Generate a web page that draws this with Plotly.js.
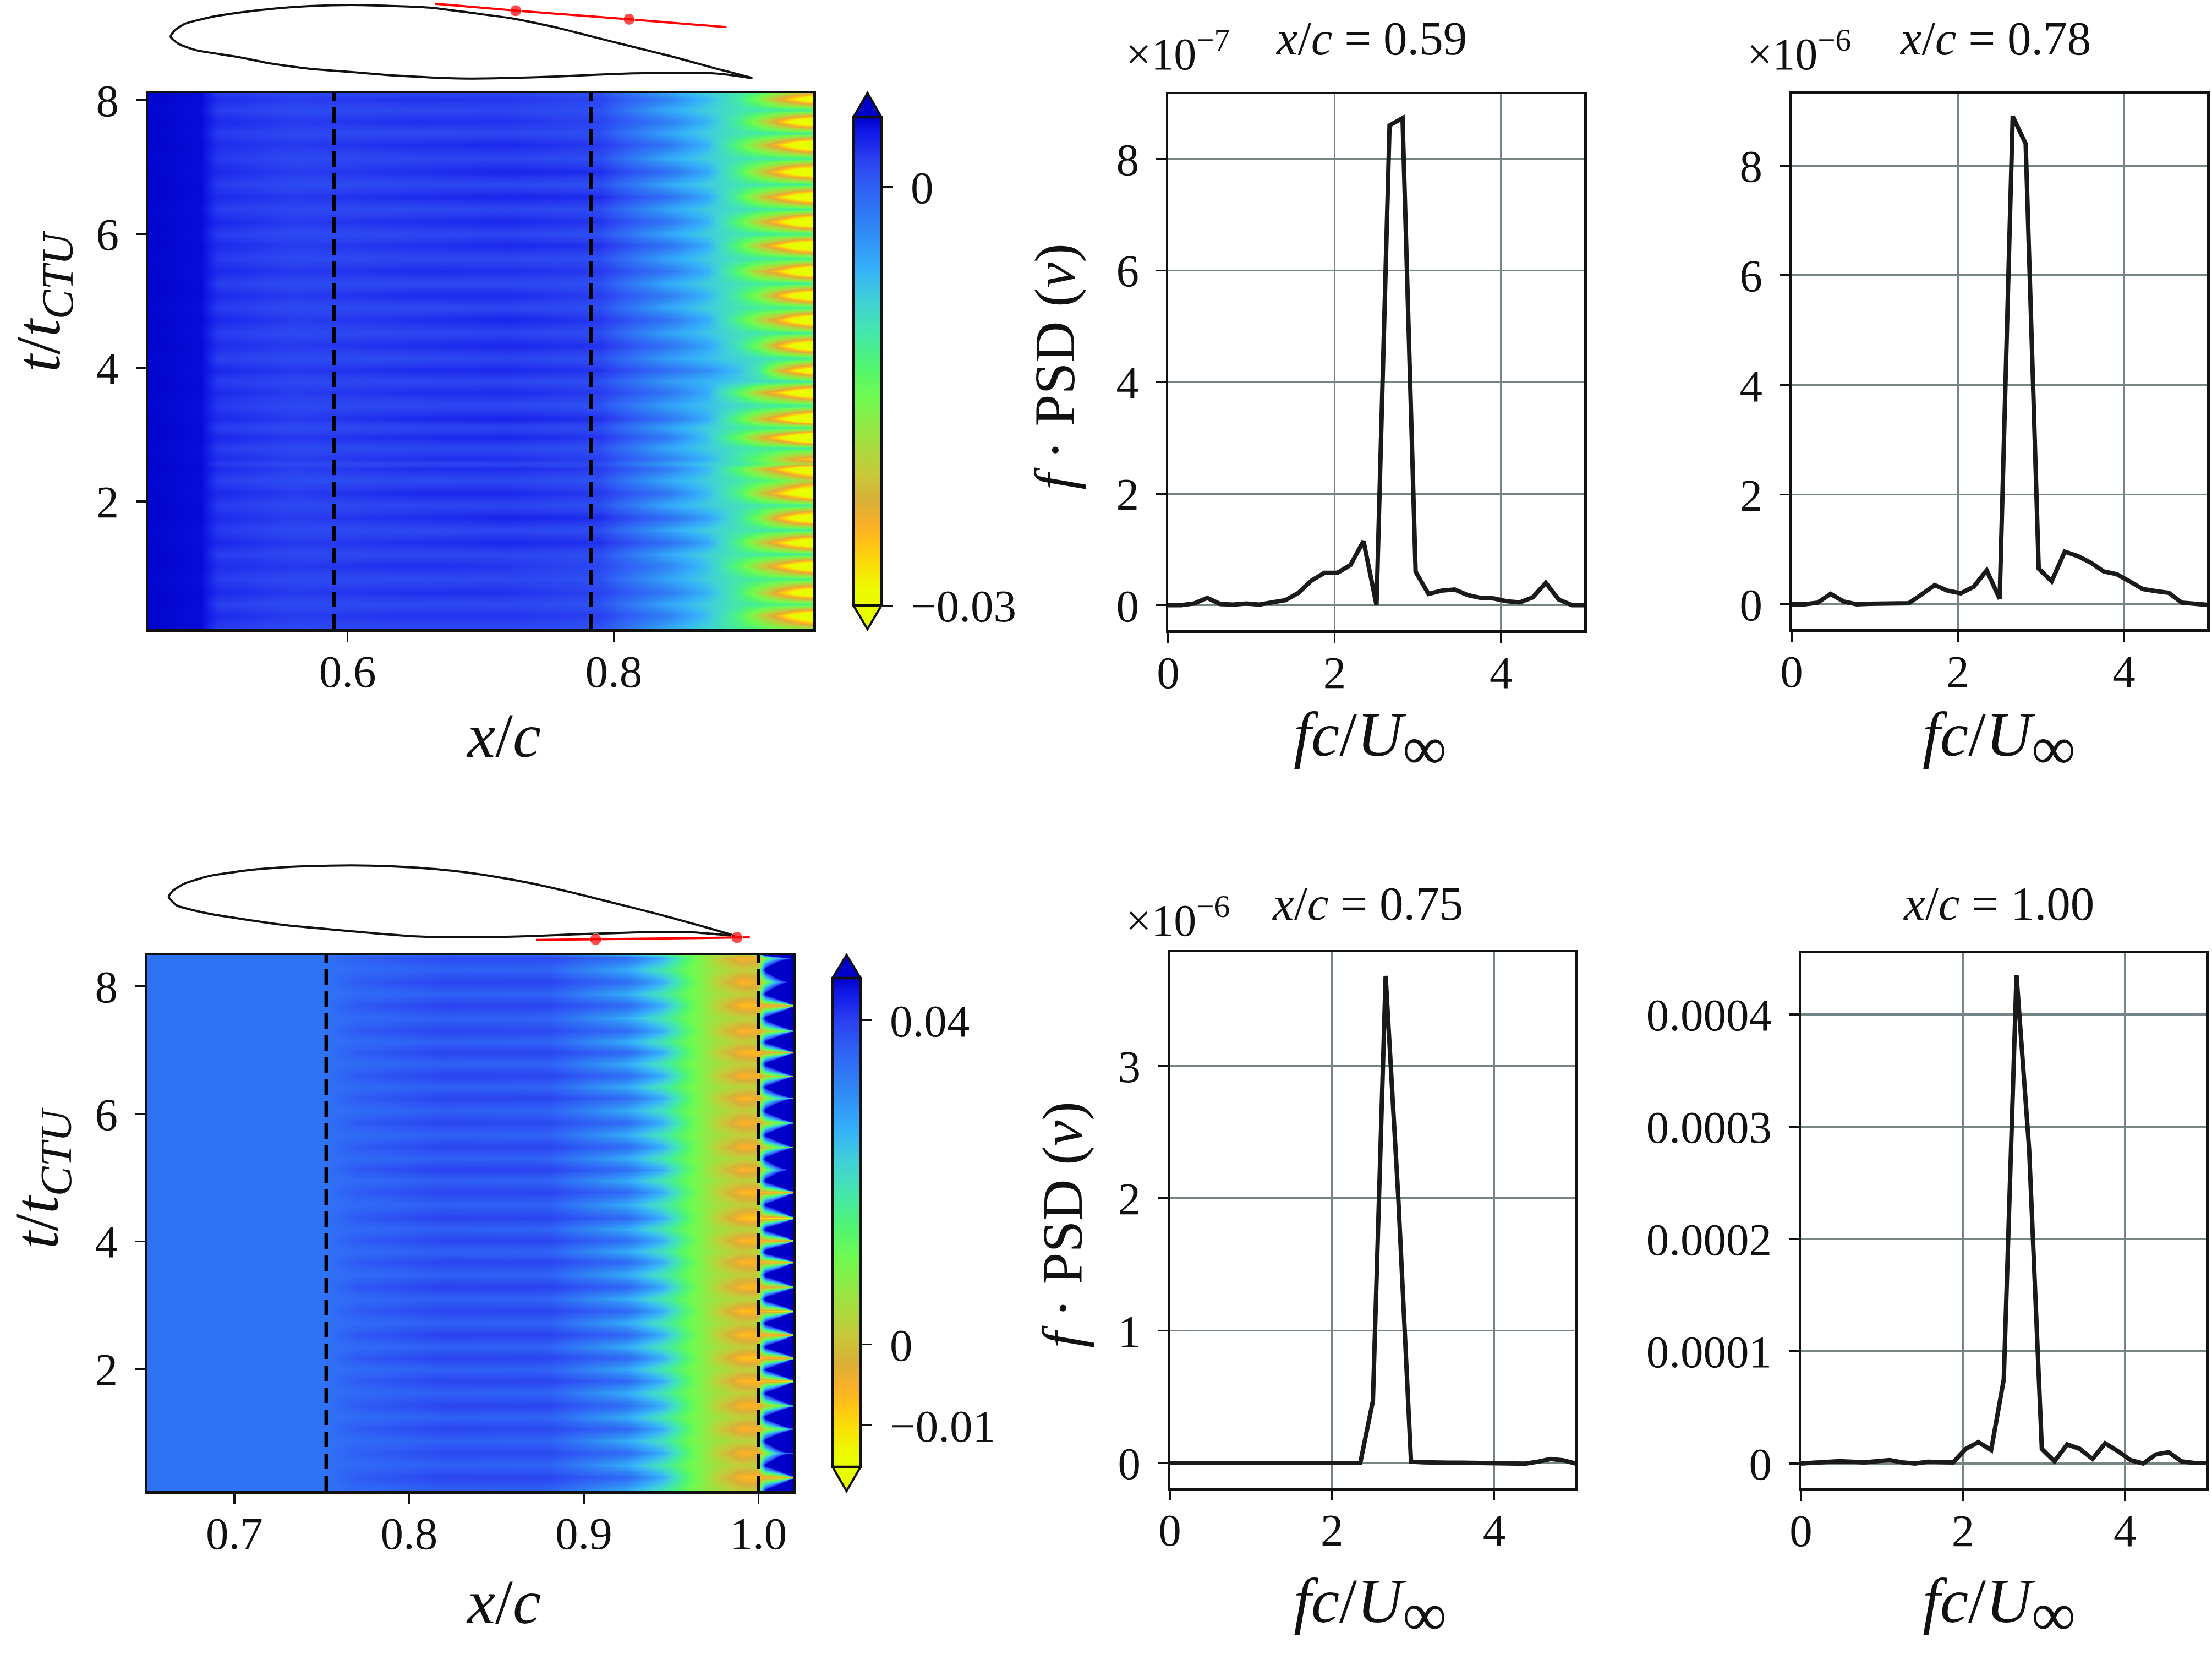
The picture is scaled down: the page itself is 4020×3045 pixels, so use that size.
<!DOCTYPE html>
<html><head><meta charset="utf-8">
<script src="https://cdn.plot.ly/plotly-3.0.1.min.js"></script>
<style>html,body{margin:0;padding:0;background:#fff}</style></head>
<body><div id="chart" style="width:4020px;height:3045px"></div>
<script>
// ---------- map A : z in units of 1e-3 ----------
const xA=[0.45,0.49,0.502,0.56,0.65,0.72,0.79,0.84,0.87,0.895,0.91,0.924,0.938,0.95];
const tA=[0.09,0.294,0.46,0.635,0.84,1.038,1.21,1.38,1.57,1.755,1.94,2.124,2.31,2.489,2.563,2.637,2.80,2.957,3.10,3.234,3.43,3.629,3.79,3.956,4.14,4.33,4.52,4.716,4.90,5.08,5.26,5.444,5.63,5.824,6.0,6.183,6.37,6.553,6.74,6.928,7.13,7.336,7.51,7.683,7.85,8.014,8.11];
const zA=[
[4.8,4.5,2.2,1.4,1.5,1.5,0.7,-5.4,-8.5,-11.5,-13,-15,-16,-17],
[4.8,4.4,3.0,2.2,2.6,2.6,2.0,-2.2,-6.8,-13,-19,-25,-32,-36],
[4.8,4.5,2.0,1.3,1.4,1.5,0.8,-5.2,-8,-10.5,-11.5,-12,-12,-12],
[4.8,4.5,3.1,2.3,2.8,2.7,1.9,-1.8,-6,-12,-18,-25,-32,-35],
[4.7,4.4,2.2,1.4,1.3,1.6,0.9,-5,-8,-10.5,-11.5,-12,-12,-12],
[4.8,4.5,2.9,2.4,2.9,2.5,1.6,-2.5,-7,-14,-20,-26,-33,-37],
[4.8,4.5,2.1,1.5,1.5,1.6,1.0,-5.2,-8.2,-10.5,-11,-11,-11,-11],
[4.8,4.4,3.2,2.3,2.8,3.2,2.8,-1,-5,-13,-20,-26,-33,-37],
[4.7,4.4,2.3,1.3,1.4,1.6,1.1,-5,-8,-10,-10.5,-11,-11,-11],
[4.8,4.5,3.0,2.2,2.9,3.3,3,-0.8,-4.5,-10.5,-16,-25,-33,-37],
[4.8,4.5,2.2,1.4,1.6,1.7,1.0,-5.4,-7.8,-9.5,-10.5,-11,-11,-11],
[4.8,4.4,3.1,2.3,3.1,3.1,2.4,-1.5,-6.5,-13,-20,-26,-33,-38],
[4.7,4.5,2.1,1.2,1.4,1.5,0.8,-5.5,-8,-10.5,-12,-14,-17,-19],
[4.8,4.5,3.0,2.1,2.8,2.9,2.2,-2,-6.5,-14,-20,-26,-33,-37],
[4.8,4.5,2.3,1.5,1.7,1.8,1.3,-4.5,-7.5,-10.5,-13,-16,-19,-20],
[4.8,4.4,2.9,2.2,2.7,2.8,2.0,-2.4,-6,-11,-14,-19,-24,-26],
[4.7,4.4,2.2,1.4,1.5,1.5,0.9,-5.2,-7.8,-10,-11,-11,-11,-11],
[4.8,4.5,3.2,2.4,3,3.2,2.5,-1.8,-7,-15,-22,-28,-37,-43],
[4.8,4.5,2.1,1.3,1.6,1.7,1.2,-5,-8,-10.5,-11,-11,-11,-11],
[4.8,4.4,3.1,2.3,3.1,3.4,2.8,-1.4,-5.5,-14,-21,-27,-35,-40],
[4.7,4.4,2.3,1.4,1.5,1.5,0.8,-4.8,-7,-9,-10,-10.5,-10.5,-11],
[4.8,4.5,3.0,2.2,2.8,3,2.3,-1.5,-5.5,-14,-21,-26,-33,-37],
[4.8,4.5,2.2,1.5,1.6,1.6,1.1,-4.2,-6.2,-8,-9.5,-10,-10.5,-11],
[4.8,4.4,3.1,2.4,3,3.1,2.6,-1,-3.5,-7,-11,-21,-29,-34],
[4.7,4.5,2.0,1.3,1.4,1.7,1.0,-4.5,-6.8,-8.5,-9.5,-10,-10.5,-11],
[4.8,4.5,2.9,2.3,2.9,3.2,2.7,-1.2,-4.8,-10.5,-16,-25,-33,-37],
[4.8,4.4,2.2,1.4,1.6,1.7,1.2,-4.8,-7.2,-9.5,-10.5,-11,-11,-11],
[4.8,4.5,3.2,2.2,2.8,3.3,2.5,-1.3,-5.5,-13,-19,-25,-33,-38],
[4.7,4.4,2.2,1.4,1.4,1.6,1.0,-5.2,-8,-10,-11,-11,-11,-11],
[4.8,4.5,3.0,2.3,3,3,2.2,-2,-6,-12,-17,-25,-33,-37],
[4.8,4.5,2.1,1.3,1.5,1.5,0.9,-5.5,-8,-10,-11,-11,-11,-11],
[4.8,4.4,3.1,2.4,2.9,2.8,2.4,-1.6,-5.8,-14,-21,-26,-34,-38],
[4.7,4.5,2.3,1.4,1.6,1.6,1.1,-5,-7.8,-10,-10.5,-11,-11,-11],
[4.8,4.5,3.0,2.2,2.7,3.1,2.7,-1.2,-5.5,-14,-21,-27,-35,-38],
[4.8,4.4,2.2,1.3,1.5,1.7,1.0,-5.2,-8,-10,-10.5,-11,-11,-11],
[4.8,4.5,3.2,2.3,2.9,3.2,2.6,-1.4,-5.8,-14,-21,-27,-35,-39],
[4.7,4.4,2.1,1.5,1.4,1.6,1.2,-5,-7.8,-9.5,-10.5,-11,-11,-11],
[4.8,4.5,3.0,2.4,3,3.3,3,-1,-5,-13,-20,-26,-33,-37],
[4.8,4.5,2.2,1.3,1.5,1.5,1.0,-5.2,-8,-10,-10.5,-11,-11,-11],
[4.8,4.4,3.1,2.2,2.8,3.4,2.9,-0.9,-5,-13,-20,-27,-34,-37],
[4.7,4.5,2.3,1.4,1.6,1.7,1.1,-5.4,-8,-10,-10.5,-11,-11,-11],
[4.8,4.5,2.9,2.3,2.9,3.1,2.4,-1.5,-6,-14,-20,-26,-34,-38],
[4.8,4.4,2.2,1.5,1.4,1.6,1.0,-5,-8,-10,-10.5,-11,-11,-11],
[4.8,4.5,3.1,2.3,2.8,2.7,1.8,-2,-6,-12,-18,-25,-33,-36],
[4.7,4.4,2.1,1.3,1.5,1.6,0.9,-5.4,-8,-10,-10.5,-11,-11,-11],
[4.8,4.5,3.0,2.2,2.7,2.5,1.7,-2.4,-6.5,-11,-16,-23,-29,-34],
[4.8,4.5,2.2,1.4,1.5,1.6,0.8,-5,-8,-10.5,-13,-17,-20,-22]];
// ---------- map B : z in units of 1e-3 ----------
const xB=[0.65,0.75,0.77,0.82,0.88,0.925,0.945,0.96,0.975,0.99,1.0,1.004,1.008,1.012,1.016,1.02];
const tB=[0.085,0.304,0.49,0.68,0.87,1.06,1.24,1.422,1.62,1.81,1.99,2.173,2.35,2.535,2.72,2.906,3.10,3.286,3.48,3.674,3.84,4.01,4.19,4.368,4.57,4.77,4.95,5.123,5.30,5.477,5.67,5.857,6.05,6.245,6.42,6.59,6.78,6.961,7.13,7.297,7.50,7.694,7.88,8.067,8.26,8.445,8.49];
const zB=[
[34,34,35,36.5,36,27,19,11,6,2,2,50,65,95,160,500],
[34,34,37,39.5,39.5,35.5,27,14,3,-6,-7,-6,-6,-6,-6,-6],
[34,34,35.2,36.6,36,27,19,11,6,2,3,48,62,90,155,480],
[34,34,36.5,39,39,35,27,14,3,-6,-5,6,18,28,34,38],
[34,34,35,36.5,36.2,27,20,11,6,3,3,50,66,96,160,520],
[34,34,37,39.5,39,35.5,27,14,3,-6,-5,3,8,12,16,20],
[34,34,35,36.4,36,27,19,11,6,2,2,50,65,95,165,500],
[34,34,37,39.5,39.5,35,27,14,3,-6,-6,0,4,7,10,12],
[34,34,35.2,36.6,36,27,19,11,6,2,2,48,62,90,150,480],
[34,34,37,39.5,39.5,35.5,27,14,3,-6,-7,-7,-8,-9,-11,-14],
[34,34,35,36.5,36.2,27.5,19,11,6,2,3,46,60,90,150,480],
[34,34,37.3,39.7,39.5,35.5,27,14,3,-7,-8,-8,-9,-10,-12,-14],
[34,34,35,36.5,36,27,19,11,6,2,2,48,64,92,155,500],
[34,34,37.4,40,39.8,36,27,14,3,-7,-7,-8,-9,-10,-11,-13],
[34,34,35,36.5,36.2,27,19,11,6,2,3,50,66,95,160,500],
[34,34,37,39.5,39.5,35.5,27,14,3,-7,-7,-7,-9,-10,-12,-14],
[34,34,35.2,36.7,36,27,19,11,6,3,3,52,68,98,165,520],
[34,34,37.5,40,40,36,27.5,14,3,-6,-7,-5,-5,-5,-5,-5],
[34,34,35,36.5,36,27,19,11,6,2,2,52,66,95,160,500],
[34,34,37.2,39.5,39.5,35.5,27,14,3,-6,-6,-6,-7,-7,-8,-8],
[34,34,35,36.4,36,27,20,11,6,2,3,54,70,100,165,520],
[34,34,37,39.5,39.5,35,27,14,3,-6,-7,-7,-8,-9,-11,-12],
[34,34,35.2,36.6,36,27,19,11,6,3,3,50,66,96,160,500],
[34,34,37.3,39.7,39.5,35.5,27,14,3,-7,-9,-10,-11,-12,-13,-14],
[34,34,35,36.5,36.2,27,19,11,6,2,2,48,62,92,155,480],
[34,34,37,39.5,39.5,35.5,27,14,3,-6,-7,-6,-6,-6,-6,-6],
[34,34,35,36.6,36,27,19,11,6,2,3,50,66,96,160,500],
[34,34,37.4,40,39.8,35,27,14,3,-6,-5,8,20,30,38,44],
[34,34,35.2,36.5,36,27,19,11,6,3,3,50,64,95,155,500],
[34,34,37,39.5,39.5,35,27,14,3,-6,-5,1,6,10,13,15],
[34,34,35,36.4,36.2,27,19,11,6,2,2,48,62,92,155,480],
[34,34,37.2,39.5,39,35,27,14,3,-6,-5,0,4,7,10,12],
[34,34,35,36.6,36,27,20,11,6,2,3,50,66,96,160,500],
[34,34,37,39.5,39.5,35,27,14,3,-6,-5,6,14,18,22,25],
[34,34,35.2,36.5,36,27,19,11,6,3,3,48,62,92,155,480],
[34,34,37.2,39.7,39.5,35,27,14,3,-6,-5,0,3,5,7,8],
[34,34,35,36.5,36.2,27,19,11,6,2,2,50,65,95,165,500],
[34,34,37,39.5,39.5,35.5,27,14,3,-6,-7,-5,-4,-4,-4,-4],
[34,34,35,36.6,36,27,19,11,6,2,3,48,62,90,155,480],
[34,34,37.2,39.5,39,35,27,14,3,-6,-5,0,4,6,8,10],
[34,34,35.2,36.5,36,27,19,11,6,3,3,50,66,96,160,520],
[34,34,37.3,39.7,39.5,35.5,27,14,3,-7,-7,-7,-8,-8,-10,-11],
[34,34,35,36.5,36.2,27,19,11,6,2,2,48,64,92,155,500],
[34,34,37,39.5,39.5,35,27,14,3,-6,-5,8,20,30,38,44],
[34,34,35,36.4,36,27,19,11,6,2,3,50,66,96,160,500],
[34,34,36.5,39,39,35,27,14,3,-6,-5,8,18,24,28,32],
[34,34,35,36.5,36,27,19,11,6,2,3,50,65,95,160,500]];
// ---------- dashed stations and colour limits ----------
const dashA=[0.59,0.783], dashB=[0.7527,1.0];
const limA=[-30,5], limB=[-15.1,45.2];
const stops=[0,0.036,0.086,0.13,0.166,0.216,0.266,0.34,0.425,0.49,0.554,0.626,0.69,0.77,0.856,0.914,0.97,1];
const cols=['#e8ff00','#eef800','#fadc08','#ffc018','#f8b028','#d8b038','#c8c838','#a0e040','#70fa50','#50f570','#44e8a8','#40d0d8','#35b0fa','#3088f5','#2f60f5','#2a40f0','#1018e8','#0000c8'];
// ---------- PSD spectra ----------
const freq=[0,0.157,0.313,0.47,0.626,0.783,0.939,1.096,1.252,1.409,1.565,1.722,1.878,2.035,2.191,2.348,2.504,2.661,2.817,2.974,3.13,3.287,3.443,3.6,3.756,3.913,4.069,4.226,4.382,4.539,4.695,4.852,5.008];
const psd059=[0,0,0.03,0.13,0.02,0.01,0.03,0.01,0.05,0.09,0.22,0.44,0.58,0.58,0.72,1.15,0,8.6,8.73,0.6,0.2,0.26,0.28,0.18,0.13,0.12,0.07,0.05,0.14,0.4,0.1,0,0];
const psd078=[0,0,0.03,0.19,0.05,0,0.01,0.01,0.02,0.02,0.18,0.35,0.25,0.2,0.32,0.62,0.1,8.9,8.4,0.65,0.42,0.96,0.88,0.76,0.6,0.55,0.42,0.28,0.24,0.21,0.03,0.01,-0.01];
const psd075=[0,0,0,0,0,0,0,0,0,0,0,0,0,0,0,0,0.47,3.68,2.0,0.01,0.005,0,0.002,0.002,0,0,0,0,-0.005,0.01,0.03,0.02,-0.005];
const psd100=[0,0.005,0.015,0.02,0.015,0.01,0.02,0.03,0.01,0,0.015,0.01,0.01,0.13,0.19,0.12,0.75,4.35,2.8,0.13,0.02,0.17,0.13,0.04,0.18,0.11,0.03,0,0.08,0.1,0.02,0.005,0.005];
// ---------- airfoil outlines and probes ----------
const foilAx=[0,0.0073,0.0246,0.0663,0.1149,0.1844,0.2399,0.3094,0.3788,0.4483,0.5177,0.5872,0.6566,0.7261,0.7955,0.865,0.9344,1,0.9618,0.9344,0.865,0.7955,0.7261,0.6566,0.5872,0.5177,0.4483,0.3788,0.3094,0.2399,0.1705,0.1149,0.0455,0.0142,0];
const foilAy=[0.0723,0.0833,0.0944,0.1054,0.1133,0.1212,0.125,0.1269,0.1253,0.1222,0.1133,0.1039,0.0897,0.0723,0.0549,0.0376,0.0186,0.0013,0.0066,0.0092,0.0101,0.0092,0.0066,0.0035,0.0013,0.0003,0.0022,0.006,0.0117,0.0171,0.0265,0.0376,0.0486,0.0597,0.0723];
const probeAx=[0.4552,0.594,0.789,0.9567], probeAy=[0.1291,0.1171,0.1023,0.0887];
const foilBx=[0,0.0071,0.0285,0.0714,0.1428,0.2142,0.2857,0.3571,0.4285,0.5,0.5714,0.6428,0.7143,0.7857,0.8571,0.9286,1,0.9643,0.9286,0.8571,0.7857,0.7143,0.6428,0.5714,0.5,0.4285,0.3571,0.2857,0.2142,0.1428,0.0714,0.0143,0];
const foilBy=[0.0737,0.0844,0.0974,0.1104,0.1211,0.1266,0.1289,0.1289,0.126,0.1201,0.1104,0.0974,0.0812,0.0633,0.0454,0.026,0.0049,0.0081,0.0107,0.0114,0.0094,0.0071,0.0042,0.0023,0.0023,0.0042,0.0097,0.0162,0.0227,0.0325,0.0438,0.0584,0.0737];
const probeBx=[0.65,0.7557,1.0057,1.0286], probeBy=[-0.0026,-0.0016,0.0016,0.0019];
// ---------- tick labels ----------
const psdXTicks=[0,2,4];
const W=4020,H=3045,FONT='Liberation Serif',TICK=83,LAB=115;
const px=(a,b)=>[a/W,b/W], py=(top,bot)=>[1-bot/H,1-top/H];
const scale=()=>stops.map((s,i)=>[s,cols[i]]);
const NB='\u2009';
function cbar(xp,topPx,lenPx,vals,text){return {x:xp/W,xanchor:'left',y:1-topPx/H,yanchor:'top',len:lenPx,lenmode:'pixels',thickness:51,thicknessmode:'pixels',xpad:0,ypad:0,outlinewidth:4.5,outlinecolor:'#111',tickvals:vals,ticktext:text,ticks:'outside',ticklen:18,tickwidth:3,tickcolor:'#111',tickfont:{family:FONT,size:TICK,color:'#111'}};}
const traces=[
 {type:'heatmap',x:xA,y:tA,z:zA,zsmooth:'best',zmin:limA[0],zmax:limA[1],colorscale:scale(),xaxis:'x',yaxis:'y',colorbar:cbar(1551,213,887,[0,-30],[NB+'0',NB+'−0.03'])},
 {type:'heatmap',x:xB,y:tB,z:zB,zsmooth:'best',zmin:limB[0],zmax:limB[1],colorscale:scale(),xaxis:'x2',yaxis:'y2',colorbar:cbar(1513,1777,888,[40,0,-10],[NB+'0.04',NB+'0',NB+'−0.01'])}
];
const dash={color:'#000',width:7,dash:'28px,12px'};
dashA.forEach(v=>traces.push({type:'scatter',mode:'lines',x:[v,v],y:[0.09,8.107],line:dash,xaxis:'x',yaxis:'y',hoverinfo:'skip'}));
dashB.forEach(v=>traces.push({type:'scatter',mode:'lines',x:[v,v],y:[0.085,8.49],line:dash,xaxis:'x2',yaxis:'y2',hoverinfo:'skip'}));
[[psd059,'x3','y3',1],[psd078,'x4','y4',1],[psd075,'x5','y5',1],[psd100,'x6','y6',1e-4]].forEach(p=>traces.push({type:'scatter',mode:'lines',x:freq,y:p[0].map(v=>v*p[3]),line:{color:'#1a1a1a',width:8,shape:'linear'},xaxis:p[1],yaxis:p[2]}));
[[foilAx,foilAy,probeAx,probeAy,'x7','y7'],[foilBx,foilBy,probeBx,probeBy,'x8','y8']].forEach(p=>{
 traces.push({type:'scatter',mode:'lines',x:p[0],y:p[1],line:{color:'#111',width:4,shape:'spline',smoothing:0.5},xaxis:p[4],yaxis:p[5],cliponaxis:false});
 traces.push({type:'scatter',mode:'lines+markers',x:p[2],y:p[3],line:{color:'#ff0000',width:4},marker:{color:'#ff0000',size:[0,21,21,0]},xaxis:p[4],yaxis:p[5],cliponaxis:false});
});
const tf={family:FONT,size:TICK,color:'#111'};
function ax(o){return Object.assign({showline:true,mirror:true,linecolor:'#111',linewidth:4.5,ticks:'outside',ticklen:18,tickwidth:3.5,tickcolor:'#111',tickfont:tf,showgrid:false,zeroline:false,automargin:false,tickmode:'array'},o);}
const GRID={showgrid:true,gridcolor:'#758585',gridwidth:3.5};
const hidden={visible:false,showgrid:false,zeroline:false};
const XS=-17,YS=14;
const XC='<i>x</i>/<i>c</i>',TT='<i>t</i>/<i>t<sub>CTU</sub></i>',FU='<i>fc</i>/<i>U</i><sub><span style="font-size:112px">∞</span></sub>',PS='<i>f</i> · PSD (<i>v</i>)';
const note=(t,x,y,size,rot)=>({text:t,xref:'paper',yref:'paper',x:x/W,y:1-y/H,xanchor:'center',yanchor:'middle',showarrow:false,textangle:rot||0,font:{family:FONT,size:size,color:'#111'}});
const layout={width:W,height:H,margin:{l:0,r:0,t:0,b:0,pad:0},paper_bgcolor:'#fff',plot_bgcolor:'rgba(0,0,0,0)',showlegend:false,
 xaxis:ax({domain:px(269,1478),range:[0.45,0.95],tickvals:[0.6,0.8],ticktext:['0.6','0.8'],anchor:'y',ticklabelstandoff:XS}),
 yaxis:ax({domain:py(169,1143),range:[0.09,8.107],tickvals:[2,4,6,8],ticktext:['2','4','6','8'],anchor:'x',ticklabelstandoff:YS}),
 xaxis2:ax({domain:px(267,1442),range:[0.65,1.02],tickvals:[0.7,0.8,0.9,1.0],ticktext:['0.7','0.8','0.9','1.0'],anchor:'y2',ticklabelstandoff:XS}),
 yaxis2:ax({domain:py(1735,2709),range:[0.085,8.49],tickvals:[2,4,6,8],ticktext:['2','4','6','8'],anchor:'x2',ticklabelstandoff:YS}),
 xaxis3:ax(Object.assign({domain:px(2123,2879),range:[0,5],tickvals:psdXTicks,ticktext:['0','2','4'],anchor:'y3',ticklabelstandoff:XS},GRID)),
 yaxis3:ax(Object.assign({domain:py(171,1145),range:[-0.449,9.16],tickvals:[0,2,4,6,8],ticktext:['0','2','4','6','8'],anchor:'x3',ticklabelstandoff:YS},GRID)),
 xaxis4:ax(Object.assign({domain:px(3256,4011),range:[0,5],tickvals:psdXTicks,ticktext:['0','2','4'],anchor:'y4',ticklabelstandoff:XS},GRID)),
 yaxis4:ax(Object.assign({domain:py(170,1143),range:[-0.452,9.315],tickvals:[0,2,4,6,8],ticktext:['0','2','4','6','8'],anchor:'x4',ticklabelstandoff:YS},GRID)),
 xaxis5:ax(Object.assign({domain:px(2126,2863),range:[0,5],tickvals:psdXTicks,ticktext:['0','2','4'],anchor:'y5',ticklabelstandoff:XS},GRID)),
 yaxis5:ax(Object.assign({domain:py(1730,2703),range:[-0.187,3.859],tickvals:[0,1,2,3],ticktext:['0','1','2','3'],anchor:'x5',ticklabelstandoff:YS},GRID)),
 xaxis6:ax(Object.assign({domain:px(3273,4009),range:[0,5],tickvals:psdXTicks,ticktext:['0','2','4'],anchor:'y6',ticklabelstandoff:XS},GRID)),
 yaxis6:ax(Object.assign({domain:py(1731,2704),range:[-0.0000221,0.000455],tickvals:[0,0.0001,0.0002,0.0003,0.0004],ticktext:['0','0.0001','0.0002','0.0003','0.0004'],anchor:'x6',ticklabelstandoff:YS},GRID)),
 xaxis7:Object.assign({domain:px(270,1420),range:[-0.0379,1.0511],anchor:'y7'},hidden),
 yaxis7:Object.assign({domain:py(0,168),range:[-0.0237,0.1354],anchor:'x7'},hidden),
 xaxis8:Object.assign({domain:px(270,1420),range:[-0.0357,1.0844],anchor:'y8'},hidden),
 yaxis8:Object.assign({domain:py(1540,1730),range:[-0.0243,0.1607],anchor:'x8'},hidden),
 annotations:[
  note('<i>x</i>/<i>c</i> = 0.59',2492,70,87),note('<i>x</i>/<i>c</i> = 0.78',3626,70,87),note('<i>x</i>/<i>c</i> = 0.75',2485,1641,87),note('<i>x</i>/<i>c</i> = 1.00',3632,1641,87),
  note('×10<sup>−7</sup>',2140,92,82),note('×10<sup>−6</sup>',3269,92,82),note('×10<sup>−6</sup>',2140,1666,82),
  note(XC,915,1336,LAB),note(XC,915,2910,LAB),
  note(FU,2490,1346,LAB),note(FU,3633,1346,LAB),note(FU,2490,2920,LAB),note(FU,3633,2920,LAB),
  note(TT,78,548,LAB,-90),note(TT,74,2141,LAB,-90),
  note(PS,1917,666,104,-90),note(PS,1931,2225,104,-90)
 ],
 shapes:[
  [1551,1602,213,169,cols[17]],[1551,1602,1100,1143,cols[0]],[1513,1564,1777,1735,cols[17]],[1513,1564,2665,2709,cols[0]]
 ].map(s=>({type:'path',xref:'paper',yref:'paper',path:`M ${s[0]/W} ${1-s[2]/H} L ${s[1]/W} ${1-s[2]/H} L ${(s[0]+s[1])/2/W} ${1-s[3]/H} Z`,fillcolor:s[4],line:{color:'#111',width:4}}))
};
Plotly.newPlot('chart',traces,layout,{displayModeBar:false,staticPlot:true});
</script></body></html>
